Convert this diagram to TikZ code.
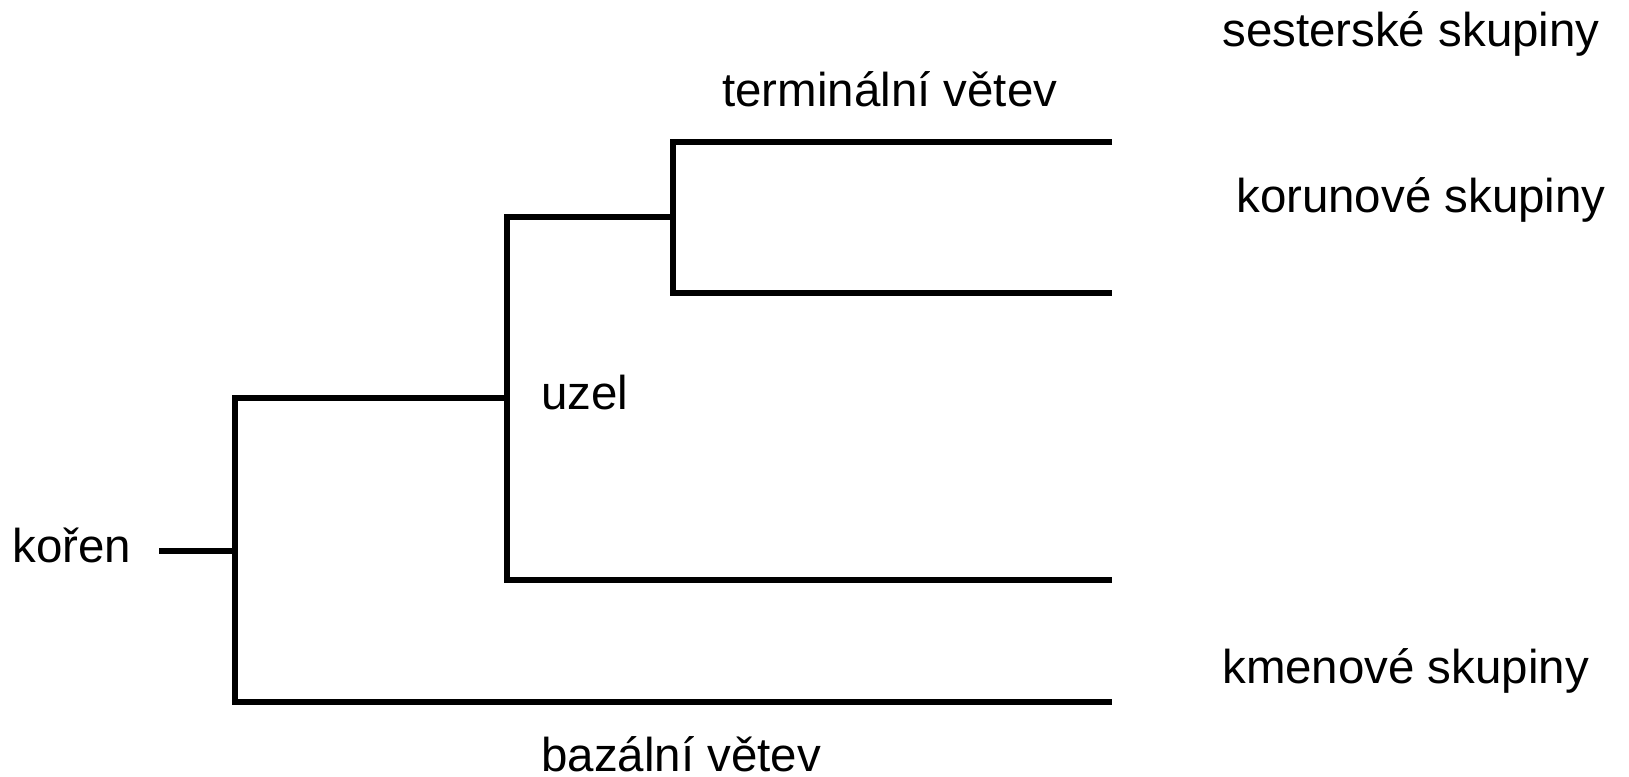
\documentclass[tikz,border=0pt]{standalone}
\usepackage{fontspec}
\setmainfont{Liberation Sans}
\begin{document}
\begin{tikzpicture}[x=0.75pt,y=-0.75pt,
  branch/.style={line width=4.1pt, line join=miter},
  lbl/.style={font=\fontsize{35.6}{42}\selectfont, inner sep=0pt, anchor=base west}]
\useasboundingbox (0,0) rectangle (1629,777);
% tree joints
\coordinate (stub) at (159,551);
\coordinate (rootj) at (235,551);
\coordinate (rtop) at (235,398);
\coordinate (rbot) at (235,702);
\coordinate (bazend) at (1112,702);
\coordinate (u) at (507,398);
\coordinate (utop) at (507,217);
\coordinate (ubot) at (507,580);
\coordinate (uend) at (1112,580);
\coordinate (c) at (673,217);
\coordinate (ctop) at (673,142);
\coordinate (cbot) at (673,293);
\coordinate (t1) at (1112,142);
\coordinate (t2) at (1112,293);
% branches
\draw[branch] (stub) -- (rootj);
\draw[branch] (u) -- (rtop) -- (rbot) -- (bazend);
\draw[branch] (c) -- (utop) -- (ubot) -- (uend);
\draw[branch] (t1) -- (ctop) -- (cbot) -- (t2);
% labels
\node[lbl] (sest) at (1222,47) {sesterské skupiny};
\node[lbl] (term) at (722,107) {terminální větev};
\node[lbl] (kor) at (1236,213) {korunové skupiny};
\node[lbl] (uzel) at (541,410) {uzel};
\node[lbl] (koren) at (12,562) {kořen};
\node[lbl] (kmen) at (1222,683) {kmenové skupiny};
\node[lbl] (baz) at (541,771) {bazální větev};
\end{tikzpicture}
\end{document}
